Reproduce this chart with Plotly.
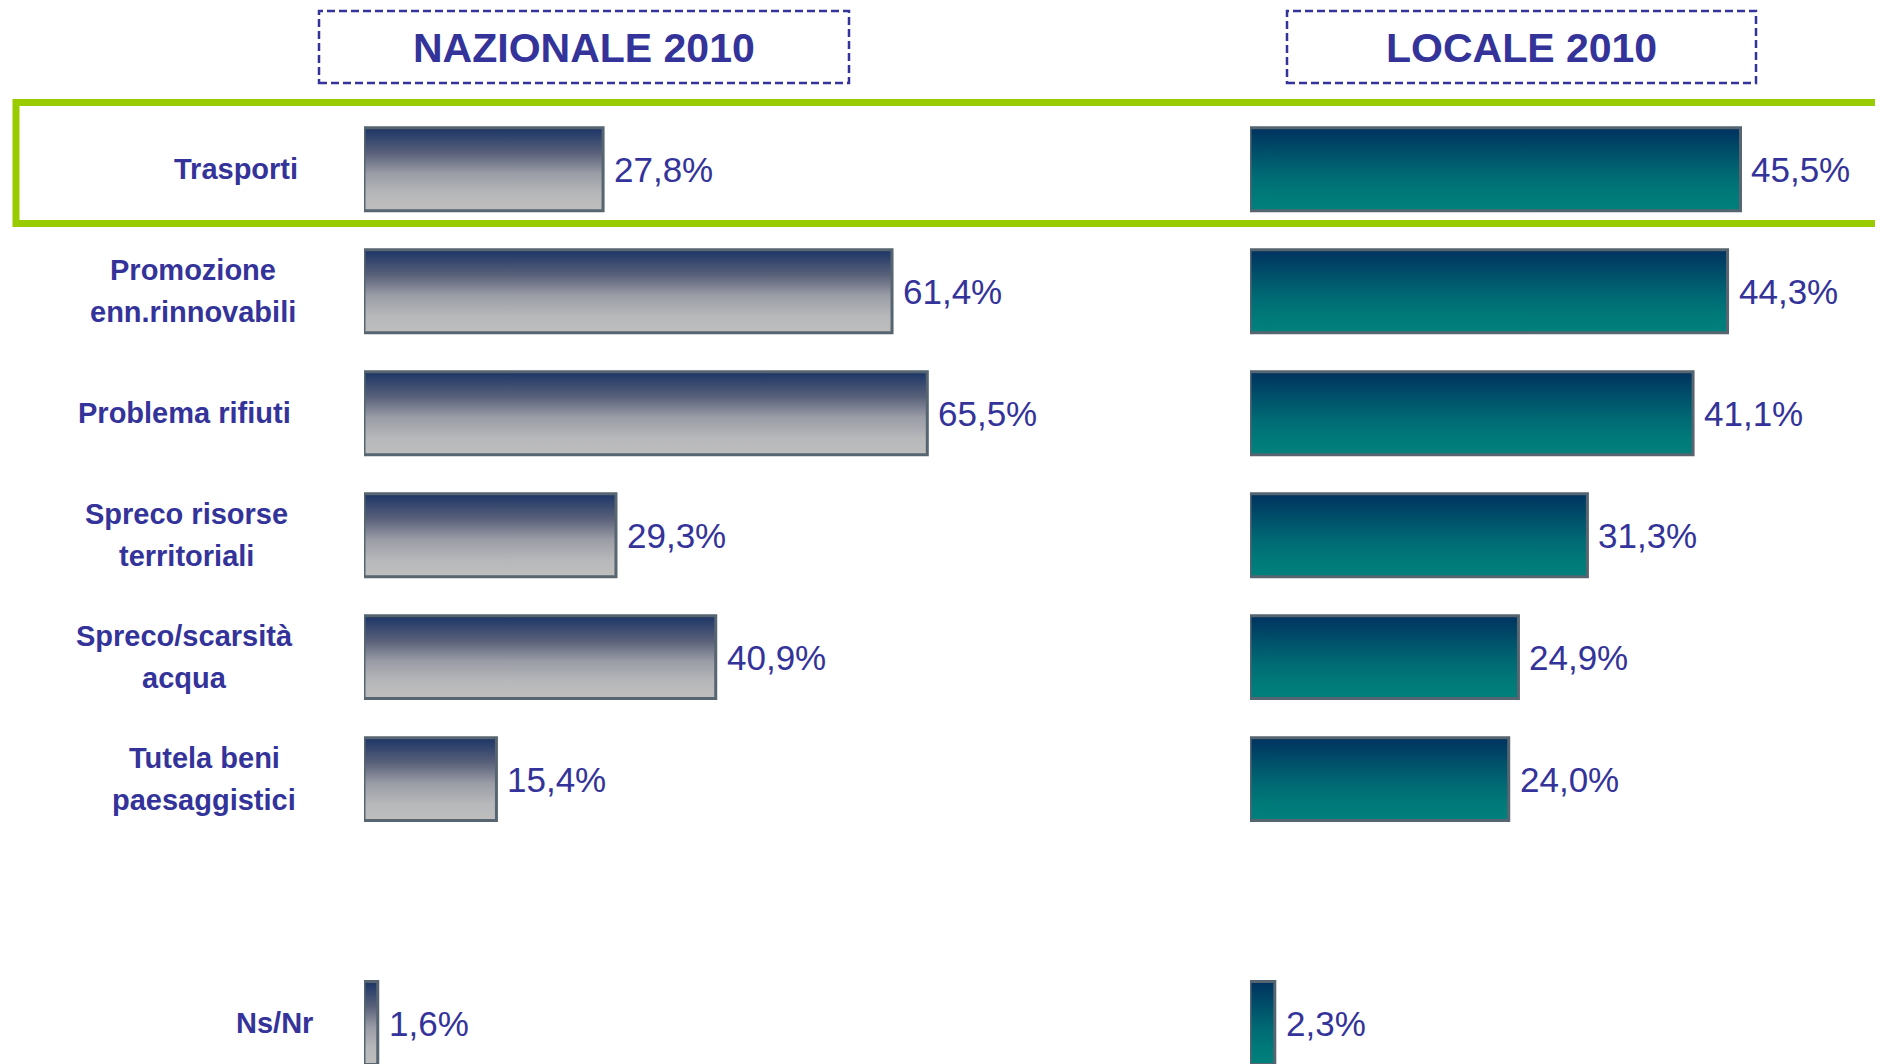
import plotly.graph_objects as go


# ==========================================================
# Data
# ==========================================================

categories = [
    "Trasporti",
    "Promozione<br>enn.rinnovabili",
    "Problema rifiuti",
    "Spreco risorse<br>territoriali",
    "Spreco/scarsità<br>acqua",
    "Tutela beni<br>paesaggistici",
    "Ns/Nr",
]
row_pos = [0, 1, 2, 3, 4, 5, 7]   # empty slot before Ns/Nr

nazionale_2010 = [27.8, 61.4, 65.5, 29.3, 40.9, 15.4, 1.6]
locale_2010 = [45.5, 44.3, 41.1, 31.3, 24.9, 24.0, 2.3]

panel_titles = ["NAZIONALE 2010", "LOCALE 2010"]


# ==========================================================
# Style
# ==========================================================

W, H = 1883, 1064
OFF = 8          # page body margin, pixels
TXT = "#333399"
FONT = "Liberation Sans, Arial, sans-serif"
BORDER = "#566570"
HALF = 0.34
LINE_GAP = 42    # px between the two lines of a label

# horizontal centre of each category label block (screen px)
label_center_px = [236, 193, 184, 186, 184, 204, 274]

grad_naz = [[0, "#1b3466"], [0.3, "#586079"], [0.55, "#9a9ca6"],
            [0.8, "#b7b8ba"], [1, "#bebebe"]]
grad_loc = [[0, "#00325f"], [0.3, "#00506a"], [0.6, "#006d75"],
            [0.85, "#007c7a"], [1, "#00807c"]]

# pixel geometry (screen pixels), shifted by the page margin
naz_left, naz_ppu = 364 - OFF, 8.60
loc_left, loc_ppu = 1250 - OFF, 10.78
naz_right = 1130 - OFF
row0_px, row_px = 169.3 - OFF, 121.96


def px_x(p):
    return (p - OFF) / W


def px_y(p):
    return 1 - (p - OFF) / H


def fmt(v):
    return f"{v:.1f}".replace(".", ",") + "%"


fig = go.Figure()

for values, grad, xa in [(nazionale_2010, grad_naz, "x"),
                         (locale_2010, grad_loc, "x2")]:
    for v, p in zip(values, row_pos):
        fig.add_trace(go.Scatter(
            x=[0, v, v, 0, 0],
            y=[p - HALF, p - HALF, p + HALF, p + HALF, p - HALF],
            mode="lines",
            fill="toself",
            fillgradient=dict(type="vertical", colorscale=grad,
                              start=p - HALF, stop=p + HALF),
            line=dict(color=BORDER, width=3),
            xaxis=xa, yaxis="y",
            hoverinfo="skip", showlegend=False,
        ))
        fig.add_annotation(
            x=v, y=p, xref=xa, yref="y",
            text=fmt(v), showarrow=False,
            xanchor="left", yanchor="middle", xshift=9,
            font=dict(family=FONT, size=35, color=TXT),
        )

# category labels, one annotation per line
for c, p, cx in zip(categories, row_pos, label_center_px):
    lines = c.split("<br>")
    n = len(lines)
    for i, ln in enumerate(lines):
        fig.add_annotation(
            x=px_x(cx), y=p, xref="paper", yref="y",
            text=f"<b>{ln}</b>", showarrow=False,
            xanchor="center", yanchor="middle",
            yshift=((n - 1) / 2 - i) * LINE_GAP,
            font=dict(family=FONT, size=29, color=TXT),
        )

# panel headers with dashed boxes
for title, (x0, x1) in zip(panel_titles, [(319, 849), (1287, 1756)]):
    fig.add_shape(type="rect", xref="paper", yref="paper",
                  x0=px_x(x0), x1=px_x(x1), y0=px_y(83), y1=px_y(11),
                  line=dict(color=TXT, width=2.5, dash="8px,4px"))
    fig.add_annotation(
        x=px_x((x0 + x1) / 2), y=px_y(48), xref="paper", yref="paper",
        text=f"<b>{title}</b>", showarrow=False,
        xanchor="center", yanchor="middle",
        font=dict(family=FONT, size=41, color=TXT),
    )

# green highlight around first row
fig.add_shape(type="rect", xref="paper", yref="paper",
              x0=px_x(16), x1=px_x(1883), y0=px_y(223.5), y1=px_y(102.5),
              line=dict(color="#99cc00", width=7))

fig.update_layout(
    width=W, height=H,
    margin=dict(l=0, r=0, t=0, b=0),
    paper_bgcolor="white", plot_bgcolor="white",
    xaxis=dict(domain=[naz_left / W, naz_right / W],
               range=[0, (naz_right - naz_left) / naz_ppu], visible=False),
    xaxis2=dict(domain=[loc_left / W, 1],
                range=[0, (W - loc_left) / loc_ppu], visible=False),
    yaxis=dict(range=[(H - row0_px) / row_px, -row0_px / row_px],
               visible=False),
)

fig.write_html("out.html")
